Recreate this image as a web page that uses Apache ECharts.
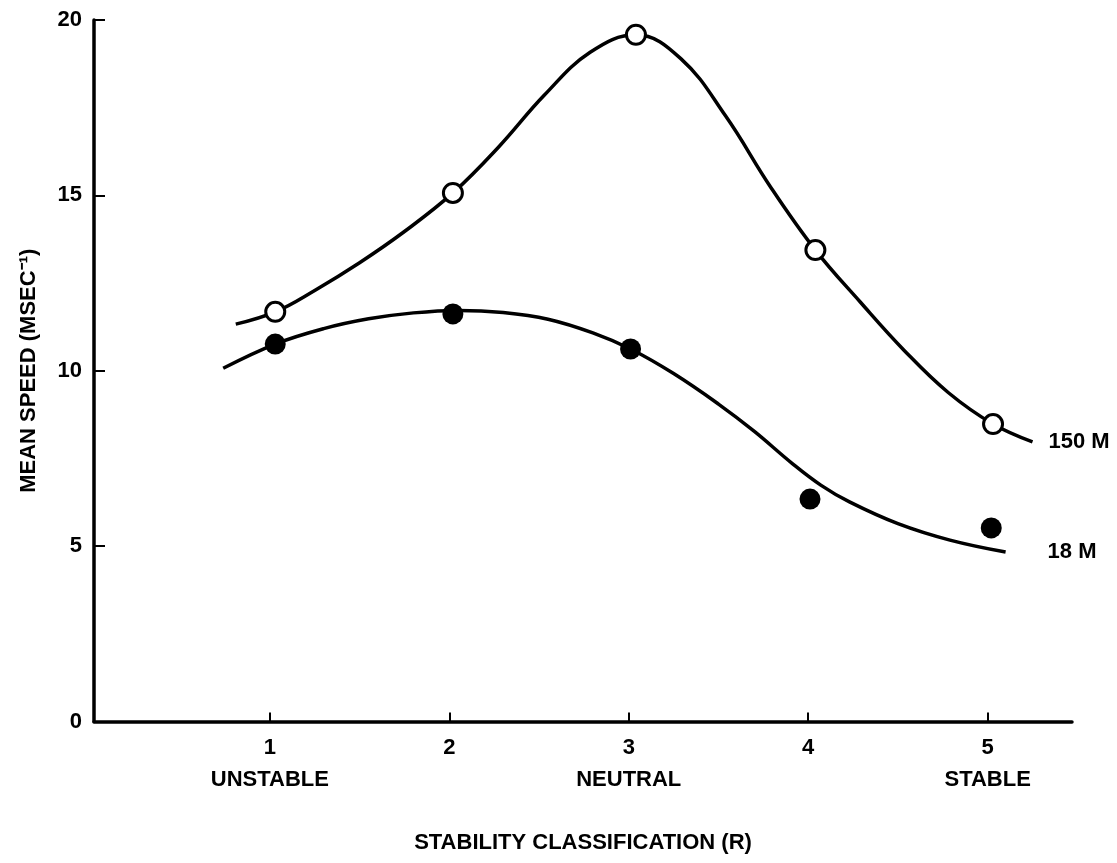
<!DOCTYPE html>
<html><head><meta charset="utf-8">
<script src="https://cdn.jsdelivr.net/npm/echarts@6/dist/echarts.min.js"></script>
<style>html,body{margin:0;padding:0;background:#fff}#c{width:1117px;height:863px}</style>
</head><body><div id="c"></div>
<script>
// ---- data ----
const xTicks = [1, 2, 3, 4, 5];
const xTickNames = ['UNSTABLE', '', 'NEUTRAL', '', 'STABLE'];
const yTicks = [0, 5, 10, 15, 20];
const seriesNames = ['150 M', '18 M'];
const pts150 = [[1.03, 11.68], [2.02, 15.07], [3.04, 19.58], [4.04, 13.44], [5.03, 8.48]];
const pts18 = [[1.03, 10.76], [2.02, 11.62], [3.01, 10.62], [4.01, 6.34], [5.02, 5.52]];
// hand-drawn fitted curves
const curve150 = [[0.81, 11.33], [1.03, 11.68], [1.25, 12.29], [1.5, 13.08], [1.75, 13.97], [2.02, 15.07], [2.275, 16.38], [2.53, 17.86], [2.785, 19.08], [3.04, 19.58], [3.29, 18.9], [3.54, 17.26], [3.79, 15.24], [4.04, 13.44], [4.29, 11.96], [4.535, 10.58], [4.78, 9.38], [5.03, 8.48], [5.25, 7.97]];
const curve18 = [[0.74, 10.07], [1.03, 10.76], [1.3, 11.2], [1.55, 11.48], [1.8, 11.65], [2.05, 11.72], [2.3, 11.66], [2.55, 11.47], [2.8, 11.08], [3.01, 10.62], [3.25, 9.92], [3.5, 9.05], [3.7, 8.27], [3.91, 7.36], [4.07, 6.74], [4.23, 6.26], [4.5, 5.64], [4.79, 5.17], [5.1, 4.83]];
const xName = 'STABILITY CLASSIFICATION (R)';
const yName = 'MEAN SPEED (MSEC⁻¹)';

const FONT = '"Liberation Sans", Arial, Helvetica, sans-serif';
const chart = echarts.init(document.getElementById('c'), null, { renderer: 'canvas' });
chart.setOption({
  animation: false,
  backgroundColor: '#fff',
  grid: { left: 94, right: 45, top: 20, bottom: 141.5, containLabel: false },
  xAxis: {
    type: 'value', min: 0.02, max: 5.47,
    name: xName, nameLocation: 'middle', nameGap: 110, nameMoveOverlap: false,
    nameTextStyle: { fontFamily: FONT, fontWeight: 'bold', fontSize: 22, color: '#000', verticalAlign: 'top' },
    axisLine: { show: true, lineStyle: { color: '#000', width: 3.5 } },
    axisTick: { show: true, inside: true, length: 9, lineStyle: { color: '#000', width: 2 }, customValues: xTicks },
    axisLabel: {
      customValues: xTicks, margin: 10, color: '#000',
      formatter: function (v) {
        const i = xTicks.indexOf(Math.round(v));
        if (i < 0) return '';
        return xTickNames[i] ? '{n|' + xTicks[i] + '}\n{w|' + xTickNames[i] + '}' : '{n|' + xTicks[i] + '}';
      },
      rich: {
        n: { fontFamily: FONT, fontWeight: 'bold', fontSize: 22, lineHeight: 32, color: '#000' },
        w: { fontFamily: FONT, fontWeight: 'bold', fontSize: 22, lineHeight: 32, color: '#000' }
      }
    },
    splitLine: { show: false }
  },
  yAxis: {
    type: 'value', min: 0, max: 20, interval: 5,
    name: yName, nameLocation: 'middle', nameGap: 54, nameMoveOverlap: false,
    nameTextStyle: { fontFamily: FONT, fontWeight: 'bold', fontSize: 22, color: '#000' },
    axisLine: { show: true, lineStyle: { color: '#000', width: 3.5 } },
    axisTick: { show: true, inside: true, length: 11, lineStyle: { color: '#000', width: 2 } },
    axisLabel: { margin: 12, fontFamily: FONT, fontWeight: 'bold', fontSize: 22, color: '#000' },
    splitLine: { show: false }
  },
  series: [
    {
      type: 'line', name: seriesNames[0] + ' curve', data: curve150, smooth: 0.4, showSymbol: false,
      lineStyle: { color: '#000', width: 3.5 }, z: 2,
      endLabel: { show: true, formatter: seriesNames[0], distance: 16, fontFamily: FONT, fontWeight: 'bold', fontSize: 22, color: '#000' }
    },
    {
      type: 'line', name: seriesNames[1] + ' curve', data: curve18, smooth: 0.4, showSymbol: false,
      lineStyle: { color: '#000', width: 3.5 }, z: 2,
      endLabel: { show: true, formatter: seriesNames[1], distance: 42, fontFamily: FONT, fontWeight: 'bold', fontSize: 22, color: '#000' }
    },
    {
      type: 'scatter', name: seriesNames[0], data: pts150, symbol: 'circle', symbolSize: 19, z: 5,
      itemStyle: { color: '#fff', borderColor: '#000', borderWidth: 3, opacity: 1 }
    },
    {
      type: 'scatter', name: seriesNames[1], data: pts18, symbol: 'circle', symbolSize: 21, z: 5,
      itemStyle: { color: '#000', opacity: 1 }
    }
  ]
});
</script></body></html>
